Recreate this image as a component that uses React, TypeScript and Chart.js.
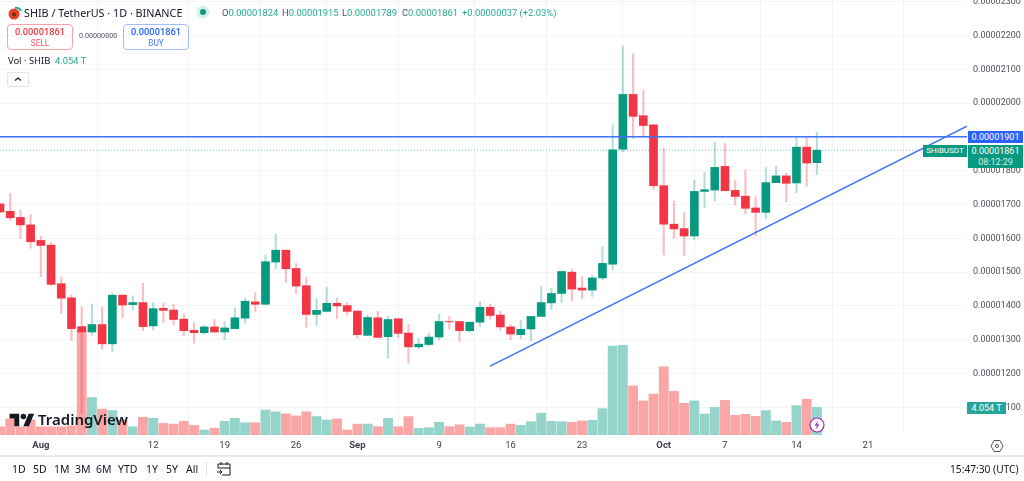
import React, { useEffect, useRef } from "react";
import { Chart, registerables } from "chart.js";

Chart.register(...registerables);

// Prices are stored in units of 1e-8 USDT. Day 0 is 28 July.
const opens = [1702,1680,1662,1640,1594,1580,1466,1424,1339,1323,1345,1288,1432,1404,1410,1341,1393,1388,1361,1328,1321,1338,1323,1333,1364,1412,1405,1530,1565,1511,
  1460,1375,1384,1408,1401,1385,1313,1365,1309,1362,1320,1279,1286,1308,1354,1354,1327,1352,1396,1373,1338,1315,1332,1369,1409,1437,1500,1453,1447,
  1483,1524,1864,2026,1963,1936,1756,1642,1629,1607,1739,1743,1813,1742,1725,1690,1677,1765,1785,1764,1870,1824];
const highs = [1702,1733,1684,1671,1607,1588,1485,1433,1398,1406,1396,1439,1432,1430,1467,1410,1408,1405,1376,1351,1343,1361,1354,1394,1423,1439,1551,1613,1565,1526,
  1485,1423,1455,1423,1410,1385,1373,1385,1370,1363,1345,1304,1319,1376,1370,1354,1352,1413,1406,1386,1346,1358,1369,1459,1452,1503,1508,1487,1491,
  1576,1936,2169,2146,2039,1936,1866,1710,1676,1773,1795,1885,1881,1771,1802,1723,1810,1814,1793,1899,1901,1915];
const lows = [1678,1653,1600,1571,1487,1461,1378,1297,1083,1314,1272,1265,1366,1388,1327,1329,1351,1344,1312,1290,1316,1321,1300,1332,1349,1384,1405,1510,1470,1437,
  1337,1341,1384,1362,1373,1305,1313,1307,1246,1307,1231,1274,1282,1299,1332,1294,1322,1339,1361,1328,1301,1303,1296,1369,1389,1410,1416,1421,1428,
  1477,1507,1856,1896,1903,1745,1551,1601,1548,1595,1691,1711,1741,1699,1672,1607,1658,1765,1708,1735,1754,1789];
const closes = [1678,1661,1640,1590,1579,1464,1423,1333,1323,1345,1288,1432,1403,1410,1339,1392,1387,1360,1327,1321,1338,1323,1335,1365,1414,1405,1531,1565,1510,1459,
  1375,1387,1408,1400,1384,1315,1366,1307,1360,1319,1279,1287,1308,1354,1353,1327,1352,1396,1372,1338,1317,1331,1369,1410,1437,1502,1450,1447,1483,
  1526,1862,2026,1961,1934,1756,1642,1628,1607,1739,1744,1810,1741,1724,1689,1677,1765,1785,1763,1870,1823,1861];
const volumesT = [1.2,2.35,1.2,2.2,1.2,1.2,1.2,1.35,15.5,5.5,3.8,3.57,2.2,1.2,2.6,2.45,1.7,1.6,2.0,1.4,0.73,1.0,2.0,2.45,1.8,1.8,3.67,3.4,3.1,2.8,
  3.4,2.7,2.2,2.35,0.73,1.6,1.6,1.22,2.45,1.22,2.7,0.98,1.07,1.86,1.22,1.5,1.17,1.6,1.07,1.07,1.6,1.42,1.95,3.2,2.0,1.95,1.86,2.05,2.15,
  3.86,13.05,13.15,7.2,5.0,6.0,10.0,6.4,4.65,5.0,3.08,4.05,5.08,2.88,3.03,2.74,3.57,2.05,1.86,4.3,5.23,4.054];

const xTickDays = [4,15,22,29,35,43,50,57,65,71,78,85];
const xTickLabels = ["Aug","12","19","26","Sep","9","16","23","Oct","7","14","21"];
const monthLabels = ["Aug","Sep","Oct"];
const yTicks = [1100,1200,1300,1400,1500,1600,1700,1800,1900,2000,2100,2200,2300];

const horizontalLevel = [{ x: 0, y: 1900.7 }, { x: 94.7, y: 1900.7 }];
const lastPriceLine = [{ x: 0, y: 1861 }, { x: 94.7, y: 1861 }];
const trendLine = [{ x: 48, y: 1222 }, { x: 94.7, y: 1932 }];

const rangeButtons: [string, number][] = [["1D",12],["5D",33],["1M",54],["3M",75],["6M",96],["YTD",118],["1Y",146],["5Y",166],["All",186]];
const ohlc: [string, string][] = [["O","0.00001824"],["H","0.00001915"],["L","0.00001789"],["C","0.00001861"]];

const UP = "#089981";
const DOWN = "#f23645";
const TEAL_TEXT = "#22ab94";
const FONT = '"Noto Sans", sans-serif';
const NUM = 'Roboto, sans-serif';

const T = (x: number, y: number, extra: React.CSSProperties = {}): React.CSSProperties => ({
  position: "absolute", left: x, top: y, whiteSpace: "nowrap", fontFamily: FONT, ...extra,
});

export default function App() {
  const ref = useRef<HTMLCanvasElement>(null);
  useEffect(() => {
    const isUp = (i: number) => closes[i] >= opens[i];
    const colors = opens.map((_, i) => (isUp(i) ? UP : DOWN));
    const wickColors = opens.map((_, i) => (isUp(i) ? "rgba(8,153,129,0.3)" : "rgba(242,54,69,0.32)"));
    const volColors = opens.map((_, i) => (isUp(i) ? "rgb(148,212,203)" : "rgb(250,166,166)"));
    const chart = new Chart(ref.current!, {
      data: {
        datasets: [
          { type: "line", data: trendLine, borderColor: "#3f72f5", borderWidth: 1.6, pointRadius: 0, order: 0, yAxisID: "y" },
          { type: "line", data: horizontalLevel, borderColor: "#3f72f5", borderWidth: 1.6, pointRadius: 0, order: 0, yAxisID: "y" },
          { type: "line", data: lastPriceLine, borderColor: "rgba(8,153,129,0.55)", borderWidth: 1, borderDash: [1, 2], pointRadius: 0, order: 4, yAxisID: "y" },
          { type: "bar", data: opens.map((o, i) => ({ x: i, y: [o, closes[i]] })), backgroundColor: colors, barThickness: 8, grouped: false, order: 1, yAxisID: "y" },
          { type: "bar", data: lows.map((l, i) => ({ x: i, y: [l, highs[i]] })), backgroundColor: wickColors, barThickness: 1.5, grouped: false, order: 2, yAxisID: "y" },
          { type: "bar", data: volumesT.map((v, i) => ({ x: i, y: v })), backgroundColor: volColors, barThickness: 9.2, grouped: false, order: 3, yAxisID: "vol" },
        ],
      } as any,
      options: {
        animation: false,
        responsive: false,
        events: [],
        plugins: { legend: { display: false }, tooltip: { enabled: false } },
        layout: { padding: 0 },
        scales: {
          x: {
            type: "linear",
            min: 0,
            max: 94.7,
            offset: false,
            afterBuildTicks: (s: any) => { s.ticks = xTickDays.map((v) => ({ value: v })); },
            afterFit: (s: any) => { s.height = 46; s.paddingLeft = 0; s.paddingRight = 0; },
            grid: { color: "#f3f4f8", drawTicks: false },
            border: { display: false },
            ticks: {
              padding: 5,
              maxRotation: 0,
              autoSkip: false,
              color: "#3a3d47",
              font: (c: any) => ({
                family: NUM,
                size: 9.5,
                weight: monthLabels.includes(xTickLabels[xTickDays.indexOf(c.tick?.value)]) ? "bold" : "normal",
              }),
              callback: (v: any) => xTickLabels[xTickDays.indexOf(v)] ?? "",
            },
          },
          y: {
            position: "right",
            min: 1018.2,
            max: 2305.4,
            afterBuildTicks: (s: any) => { s.ticks = yTicks.map((v) => ({ value: v })); },
            afterFit: (s: any) => { s.width = 57; s.paddingTop = 0; s.paddingBottom = 0; },
            grid: { color: "#f3f4f8", drawTicks: false },
            border: { display: false },
            ticks: {
              padding: 6,
              autoSkip: false,
              color: "#50535e",
              font: { family: NUM, size: 9 },
              callback: (v: any) => (v * 1e-8).toFixed(8),
            },
          },
          vol: {
            type: "linear",
            display: false,
            position: "left",
            min: 0,
            max: 63.8,
          },
        },
      } as any,
    });
    return () => chart.destroy();
  }, []);

  return (
    <div style={{ position: "absolute", left: 0, top: 0, width: 1024, height: 481, background: "#fff", overflow: "hidden" }}>
      <canvas ref={ref} width={1024} height={481} style={{ position: "absolute", left: 0, top: 0, width: 1024, height: 481 }} />

      {/* Legend header */}
      <svg width="16" height="16" style={{ position: "absolute", left: 7, top: 5 }}>
        <circle cx="7" cy="9" r="5.5" fill="#e5422b" />
        <path d="M8 3a5 5 0 0 1 6 3" stroke="#26a69a" strokeWidth="2" fill="none" />
        <circle cx="7" cy="9.5" r="2" fill="#6b2a10" />
      </svg>
      <div style={T(24, 4, { fontSize: 10.8, lineHeight: "18px", color: "#131722" })}>SHIB / TetherUS · 1D · BINANCE</div>
      <svg width="14" height="14" style={{ position: "absolute", left: 196, top: 5 }}>
        <circle cx="7" cy="7" r="6.5" fill="#d5efe9" />
        <circle cx="7" cy="7" r="3" fill={UP} />
      </svg>
      {ohlc.map(([k, v], i) => (
        <div key={k} style={T(222 + i * 60, 5, { fontSize: 9.4, lineHeight: "16px", fontFamily: NUM, color: "#50535e" })}>
          {k}<span style={{ color: TEAL_TEXT }}>{v}</span>
        </div>
      ))}
      <div style={T(462, 5, { fontSize: 9.4, lineHeight: "16px", fontFamily: NUM, color: TEAL_TEXT })}>+0.00000037 (+2.03%)</div>

      {/* Sell / buy */}
      <div style={{ position: "absolute", left: 7, top: 24, width: 66, height: 26, boxSizing: "border-box", border: "1px solid #f7a1a8", borderRadius: 4, textAlign: "center", fontFamily: NUM, color: DOWN }}>
        <div style={{ fontSize: 9.3, fontWeight: 500, lineHeight: "13px" }}>0.00001861</div>
        <div style={{ fontSize: 8.2, lineHeight: "10px", opacity: 0.85 }}>SELL</div>
      </div>
      <div style={T(79, 30, { fontSize: 7.2, lineHeight: "12px", fontFamily: NUM, color: "#50535e" })}>0.00000000</div>
      <div style={{ position: "absolute", left: 123, top: 24, width: 66, height: 26, boxSizing: "border-box", border: "1px solid #a3bcfb", borderRadius: 4, textAlign: "center", fontFamily: NUM, color: "#2962ff" }}>
        <div style={{ fontSize: 9.3, fontWeight: 500, lineHeight: "13px" }}>0.00001861</div>
        <div style={{ fontSize: 8.2, lineHeight: "10px", opacity: 0.85 }}>BUY</div>
      </div>

      <div style={T(8, 54, { fontSize: 9.4, lineHeight: "14px", color: "#131722" })}>Vol · SHIB</div>
      <div style={T(55, 54, { fontSize: 9.4, lineHeight: "14px", fontFamily: NUM, color: TEAL_TEXT })}>4.054 T</div>
      <div style={{ position: "absolute", left: 7, top: 72, width: 22, height: 15, boxSizing: "border-box", border: "1px solid #e0e3eb", borderRadius: 2, background: "#fff" }}>
        <svg width="20" height="13" style={{ display: "block" }}>
          <path d="M7 7.5l3-2.5 3 2.5" stroke="#131722" strokeWidth="1.2" fill="none" />
        </svg>
      </div>

      {/* Watermark */}
      <svg width="26" height="18" viewBox="0 0 36 26" style={{ position: "absolute", left: 9, top: 411 }}>
        <path d="M14 22H7V11H0V4h14v18zM28 22h-8l7.5-18h8L28 22z" fill="#131722" />
        <circle cx="20" cy="8" r="4" fill="#131722" />
      </svg>
      <div style={T(38, 408, { fontSize: 15, lineHeight: "22px", fontWeight: 600, color: "#131722" })}>TradingView</div>

      {/* Bolt */}
      <svg width="18" height="18" style={{ position: "absolute", left: 808, top: 416 }}>
        <circle cx="9" cy="9" r="7" fill="#fff" stroke="#9c27b0" strokeWidth="1.2" />
        <path d="M10 4.8L6.5 9.6h2.4L8 13.2l3.5-4.8H9.1z" fill="#9c27b0" />
      </svg>

      {/* Price badges */}
      <div style={{ position: "absolute", left: 968, top: 131, width: 55, height: 12, background: "#2962ff", color: "#fff", fontFamily: NUM, fontSize: 9, lineHeight: "12px", textAlign: "center" }}>0.00001901</div>
      <div style={{ position: "absolute", left: 923, top: 145, width: 44, height: 12, background: UP, color: "#fff", fontFamily: NUM, fontSize: 8, lineHeight: "12px", textAlign: "center" }}>SHIBUSDT</div>
      <div style={{ position: "absolute", left: 968, top: 145, width: 55, height: 23, background: UP, color: "#fff", fontFamily: NUM, textAlign: "center" }}>
        <div style={{ fontSize: 9, lineHeight: "12px" }}>0.00001861</div>
        <div style={{ fontSize: 9, lineHeight: "10px", opacity: 0.8 }}>08:12:29</div>
      </div>
      <div style={{ position: "absolute", left: 967, top: 402, width: 39, height: 12, background: "#26a69a", color: "#fff", fontFamily: NUM, fontSize: 9, lineHeight: "12px", textAlign: "center" }}>4.054 T</div>

      {/* Settings hexagon */}
      <svg width="14" height="14" style={{ position: "absolute", left: 990, top: 439 }}>
        <path d="M4 1.5h6l3 5.5-3 5.5H4L1 7z" fill="none" stroke="#50535e" strokeWidth="1" />
        <circle cx="7" cy="7" r="1.6" fill="none" stroke="#50535e" strokeWidth="1" />
      </svg>

      {/* Bottom toolbar */}
      <div style={{ position: "absolute", left: 0, top: 455, width: 1024, height: 1.5, background: "#e8eaf0" }} />
      {rangeButtons.map(([label, x]) => (
        <div key={label} style={T(x, 462, { fontSize: 10.5, lineHeight: "14px", color: "#131722" })}>{label}</div>
      ))}
      <div style={{ position: "absolute", left: 206, top: 461, width: 1, height: 16, background: "#e0e3eb" }} />
      <svg width="16" height="16" style={{ position: "absolute", left: 216, top: 461 }}>
        <path d="M2 7V3h12v11H6M2 7h12M5 1v3M11 1v3M1 11h5M4 9l2 2-2 2" fill="none" stroke="#131722" strokeWidth="1" />
      </svg>
      <div style={T(950, 462, { fontSize: 10.2, lineHeight: "14px", color: "#131722" })}>15:47:30 (UTC)</div>
    </div>
  );
}
